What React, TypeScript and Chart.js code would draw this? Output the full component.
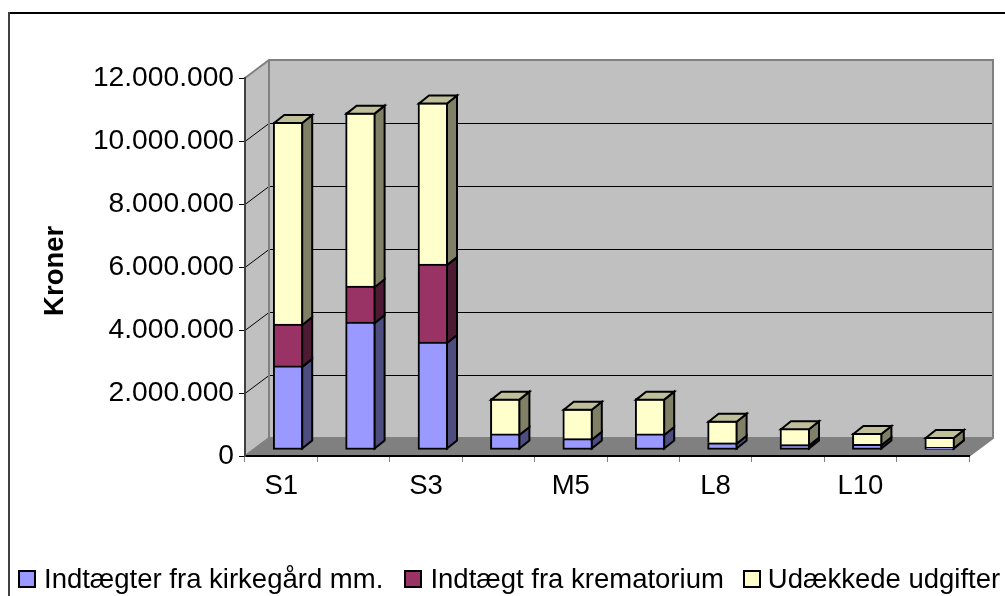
import React, { useEffect, useRef } from "react";
import { Chart, registerables } from "chart.js";

Chart.register(...registerables);

const FONT = "'Liberation Sans', Arial, sans-serif";
const FONT_SIZE = 27.5;
const Y_TICK_FONT_SIZE = 28.2;

const categories = ["S1", "S2", "S3", "M4", "M5", "M6", "L8", "L9", "L10", "L11"];
const visibleLabels = ["S1", "S3", "M5", "L8", "L10"];
const seriesNames = ["Indtægter fra kirkegård mm.", "Indtægt fra krematorium", "Udækkede udgifter"];

const kirkegaard = [2670000, 4060000, 3430000, 510000, 360000, 510000, 230000, 170000, 180000, 85000];
const krematorium = [1330000, 1140000, 2470000, null, null, null, null, null, null, null];
const udaekkede = [6410000, 5510000, 5130000, 1120000, 950000, 1120000, 700000, 520000, 360000, 325000];

const fills = ["#9999FF", "#993366", "#FFFFCC"];
const sideFills = ["#4D4D80", "#4D1A33", "#808066"];
const topFills = ["#BFBFFF", "#BF6688", "#BFBF99"];

const WALL_DX = 24;
const WALL_DY = -18;
const BAR_SHIFT_X = 7;
const BAR_SHIFT_Y = -6;
const BAR_DX = 10;
const BAR_DY = -8;

const legendBoxX = [18, 404, 743];
const legendTextX = [44, 430.4, 767.8];

const poly = (ctx: CanvasRenderingContext2D, pts: number[][], fill?: string, stroke?: string, lw = 1) => {
  ctx.beginPath();
  pts.forEach((p, i) => (i ? ctx.lineTo(p[0], p[1]) : ctx.moveTo(p[0], p[1])));
  ctx.closePath();
  if (fill) {
    ctx.fillStyle = fill;
    ctx.fill();
  }
  if (stroke) {
    ctx.strokeStyle = stroke;
    ctx.lineWidth = lw;
    ctx.stroke();
  }
};

const scene3d = {
  id: "scene3d",
  beforeDraw(chart: any) {
    const { ctx, chartArea: a, scales } = chart;
    const { left: l, right: r, top: t, bottom: b } = a;
    ctx.save();
    ctx.fillStyle = "#FFFFFF";
    ctx.fillRect(0, 0, chart.width, chart.height);
    ctx.fillStyle = "#000000";
    ctx.fillRect(8, 12, 997, 2);
    ctx.fillStyle = "#404040";
    ctx.fillRect(8, 12, 2, 584);

    const bx = l + WALL_DX;
    const tb = t + WALL_DY;
    const bb = b + WALL_DY;
    const rb = r + WALL_DX;
    poly(ctx, [[l, t], [bx, tb], [bx, bb], [l, b]], "#C0C0C0");
    poly(ctx, [[bx, tb], [rb, tb], [rb, bb], [bx, bb]], "#C0C0C0");
    poly(ctx, [[l, b], [bx, bb], [rb, bb], [r, b]], "#808080");

    ctx.strokeStyle = "#000000";
    ctx.lineWidth = 1;
    scales.y.ticks.forEach((tick: any) => {
      if (tick.value === 0 || tick.value === scales.y.max) return;
      const y = Math.round(scales.y.getPixelForValue(tick.value)) + 0.5;
      ctx.beginPath();
      ctx.moveTo(l, y);
      ctx.lineTo(bx, y + WALL_DY);
      ctx.lineTo(rb, y + WALL_DY);
      ctx.stroke();
    });

    ctx.strokeStyle = "#808080";
    ctx.lineWidth = 2;
    ctx.beginPath();
    ctx.moveTo(l, t);
    ctx.lineTo(bx, tb);
    ctx.lineTo(rb, tb);
    ctx.lineTo(rb, bb);
    ctx.lineTo(r, b);
    ctx.moveTo(bx, tb);
    ctx.lineTo(bx, bb);
    ctx.lineTo(l, b);
    ctx.moveTo(bx, bb);
    ctx.lineTo(rb, bb);
    ctx.stroke();
    ctx.restore();
  },
  beforeDatasetsDraw(chart: any) {
    chart.ctx.save();
    chart.ctx.translate(BAR_SHIFT_X, BAR_SHIFT_Y);
  },
  afterDatasetsDraw(chart: any) {
    const ctx = chart.ctx;
    ctx.lineJoin = "miter";
    chart.data.datasets.forEach((_: any, di: number) => {
      chart.getDatasetMeta(di).data.forEach((el: any, i: number) => {
        const v = chart.data.datasets[di].data[i];
        if (!v) return;
        const xl = el.x - el.width / 2 + 1;
        const xr = el.x + el.width / 2 - 1;
        const yb = di === 0 ? el.base - 1 : el.base + 1;
        poly(ctx, [[xr, el.y + 1], [xr + BAR_DX, el.y + 1 + BAR_DY], [xr + BAR_DX, yb + BAR_DY], [xr, yb]], sideFills[di], "#000000", 2);
        if (di === chart.data.datasets.length - 1) {
          poly(ctx, [[xl, el.y + 1], [xl + BAR_DX, el.y + 1 + BAR_DY], [xr + BAR_DX, el.y + 1 + BAR_DY], [xr, el.y + 1]], topFills[di], "#000000", 2);
        }
      });
    });
    ctx.restore();
  },
  afterDraw(chart: any) {
    const ctx = chart.ctx;
    ctx.save();
    ctx.font = `${FONT_SIZE}px ${FONT}`;
    ctx.textBaseline = "alphabetic";
    ctx.textAlign = "left";
    chart.data.datasets.forEach((ds: any, i: number) => {
      ctx.fillStyle = ds.backgroundColor;
      ctx.strokeStyle = "#000000";
      ctx.lineWidth = 2;
      ctx.fillRect(legendBoxX[i] + 1, 571, 16, 16);
      ctx.strokeRect(legendBoxX[i] + 1, 571, 16, 16);
      ctx.fillStyle = "#000000";
      ctx.fillText(ds.label, legendTextX[i], 588);
    });
    ctx.restore();
  },
};

export default function App() {
  const ref = useRef<HTMLCanvasElement>(null);
  useEffect(() => {
    const chart = new Chart(ref.current as HTMLCanvasElement, {
      type: "bar",
      data: {
        labels: categories,
        datasets: [kirkegaard, krematorium, udaekkede].map((data, i) => ({
          label: seriesNames[i],
          data,
          backgroundColor: fills[i],
          borderColor: "#000000",
          borderWidth: 2,
          borderSkipped: i === 0 ? false : "start",
          barThickness: 30,
          clip: false,
        })),
      },
      options: {
        responsive: false,
        animation: false,
        layout: { padding: { left: 8, top: 78, right: 36, bottom: 0 } },
        plugins: { legend: { display: false }, title: { display: false }, tooltip: { enabled: false } },
        scales: {
          x: {
            stacked: true,
            afterFit: (s: any) => {
              s.height = 140;
            },
            grid: { drawOnChartArea: false, drawTicks: true, tickLength: 6, color: "#808080", offset: true },
            border: { display: true, color: "#000000", width: 2 },
            ticks: {
              autoSkip: false,
              maxRotation: 0,
              padding: 8,
              color: "#000000",
              font: { family: FONT, size: FONT_SIZE },
              callback: (_: any, i: number) => (visibleLabels.includes(categories[i]) ? categories[i] : ""),
            },
          },
          y: {
            stacked: true,
            min: 0,
            max: 12000000,
            afterFit: (s: any) => {
              s.width = 237;
            },
            title: {
              display: true,
              text: "Kroner ",
              color: "#000000",
              padding: { top: 31, bottom: 0 },
              font: { family: FONT, size: FONT_SIZE, weight: "bold" },
            },
            grid: { drawOnChartArea: false, drawTicks: true, tickLength: 6, color: "#000000" },
            border: { display: true, color: "#404040", width: 2 },
            ticks: {
              stepSize: 2000000,
              padding: 5,
              color: "#000000",
              font: { family: FONT, size: Y_TICK_FONT_SIZE },
              callback: (v: any) => String(v).replace(/\B(?=(\d{3})+$)/g, "."),
            },
          },
        },
      },
      plugins: [scene3d],
    } as any);
    return () => chart.destroy();
  }, []);
  return (
    <canvas
      ref={ref}
      width={1005}
      height={596}
      style={{ position: "fixed", left: 0, top: 0, width: 1005, height: 596, display: "block" }}
    />
  );
}
